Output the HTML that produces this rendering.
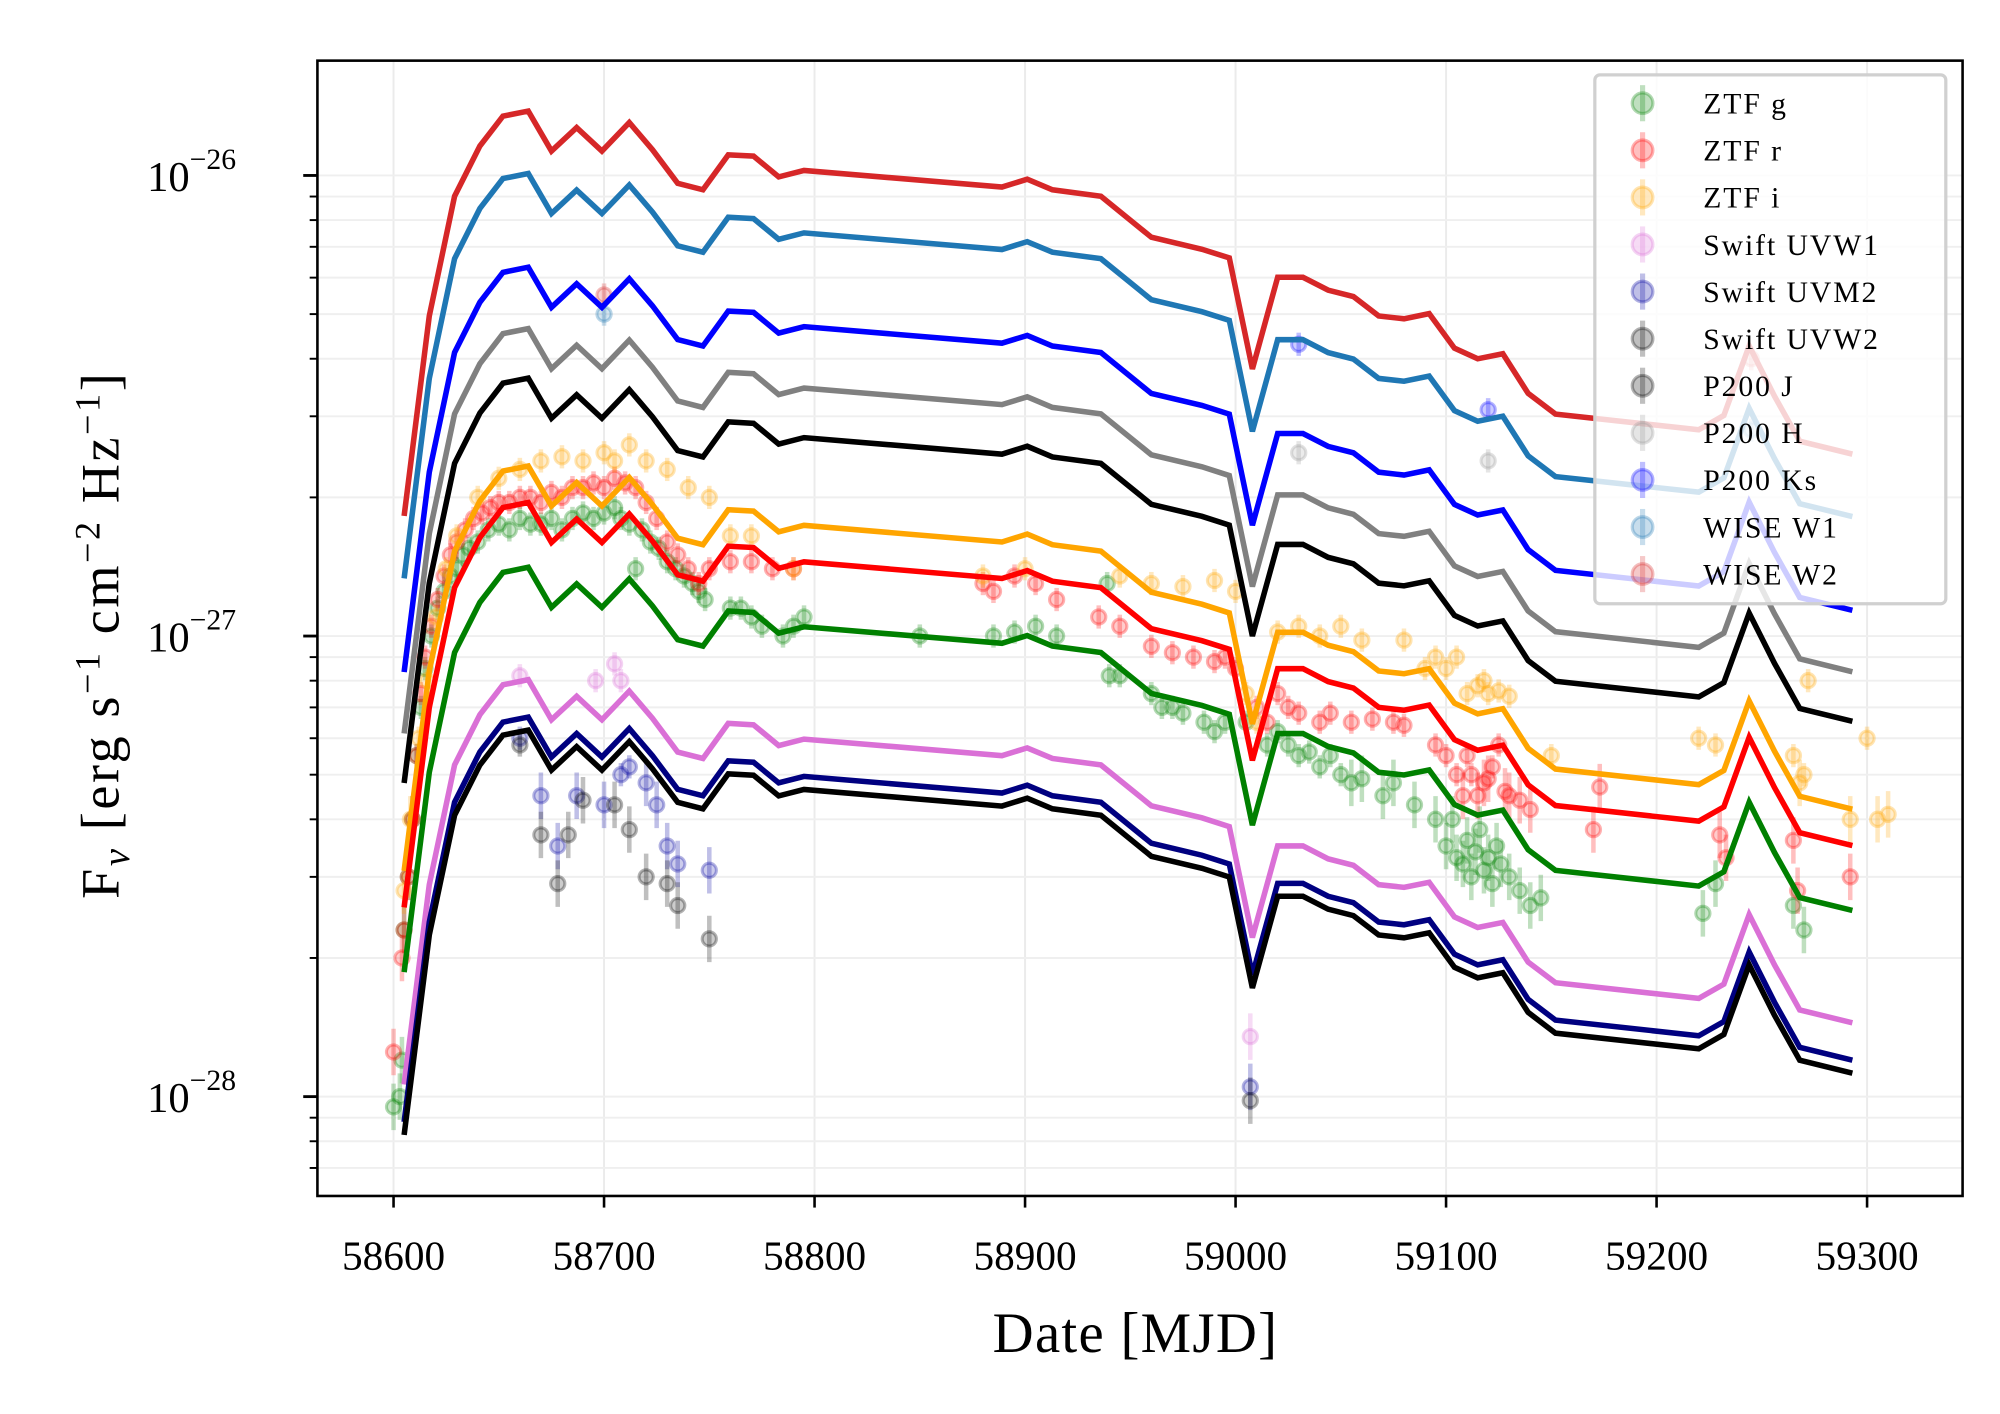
<!DOCTYPE html>
<html><head><meta charset="utf-8"><style>
html,body{margin:0;padding:0;background:#fff;}
svg{display:block;font-family:"Liberation Serif","DejaVu Serif",serif;}
</style></head><body>
<svg id="chart" xmlns="http://www.w3.org/2000/svg" width="2000" height="1414" viewBox="0 0 1550 1096" preserveAspectRatio="none">
<rect x="0" y="0" width="1550" height="1096" fill="#fff"/>
<g id="grid"></g>
<g id="data"></g>
<g id="models"></g>
<rect x="246" y="47" width="1275" height="880" fill="none" stroke="#000" stroke-width="2"/>
<g id="axes"></g>
<text x="880" y="1048" font-size="44" letter-spacing="1" text-anchor="middle">Date [MJD]</text>
<text transform="translate(92,492) rotate(-90)" font-size="42" letter-spacing="2" text-anchor="middle">F<tspan font-style="italic" font-size="30" dy="8">ν</tspan><tspan dy="-8"> [erg s</tspan><tspan font-size="28" dy="-15">−1</tspan><tspan dy="15"> cm</tspan><tspan font-size="28" dy="-15">−2</tspan><tspan dy="15"> Hz</tspan><tspan font-size="28" dy="-15">−1</tspan><tspan dy="15">]</tspan></text>
<g id="legend"></g>
</svg>
<script>
// ---- data ----
const xTicks = [58600,58700,58800,58900,59000,59100,59200,59300];
const yDecades = [-28,-27,-26];
const modelMJD = [58605,58617,58629,58641,58652,58664,58675,58687,58699,58712,58723,58735,58747,58759,58771,58783,58795,58889,58901,58913,58936,58960,58984,58997,59008,59020,59032,59044,59056,59068,59080,59092,59104,59115,59127,59139,59152,59220,59232,59244,59256,59268,59293];
// model log-shape relative to peak (dex)
const modelShape = [-0.879,-0.445,-0.185,-0.076,-0.011,0,-0.087,-0.036,-0.087,-0.025,-0.084,-0.157,-0.171,-0.095,-0.098,-0.143,-0.129,-0.165,-0.148,-0.171,-0.185,-0.274,-0.300,-0.319,-0.560,-0.361,-0.361,-0.389,-0.403,-0.445,-0.451,-0.440,-0.515,-0.538,-0.527,-0.613,-0.658,-0.692,-0.661,-0.510,-0.619,-0.717,-0.745];
const bandNames = ["WISE W2","WISE W1","P200 Ks","P200 H","P200 J","ZTF i","ZTF r","ZTF g","Swift UVW1","Swift UVM2","Swift UVW2"];
const bandColors = ["#d62728","#1f77b4","#0000ff","#808080","#000000","#ffa500","#ff0000","#008000","#da70d6","#000080","#000000"];
const bandPeak = [1.38e-26,1.01e-26,6.32e-27,4.65e-27,3.63e-27,2.34e-27,1.95e-27,1.41e-27,8.04e-28,6.67e-28,6.25e-28];

// observed points (flux in units of 1e-28)
const gMJD = [58600,58603,58604,58605,58607,58609,58611,58613,58615,58618,58621,58624,58627,58630,58633,58636,58640,58645,58650,58655,58660,58665,58670,58675,58680,58685,58690,58695,58700,58705,58708,58712,58715,58718,58722,58726,58730,58734,58738,58742,58745,58748,58760,58765,58770,58775,58785,58790,58795,58850,58885,58895,58905,58915,58939,58940,58945,58960,58965,58970,58975,58985,58990,58995,59005,59015,59020,59025,59030,59035,59040,59045,59050,59055,59060,59070,59075,59085,59095,59100,59103,59105,59108,59110,59112,59114,59116,59118,59120,59122,59124,59126,59130,59135,59140,59145,59222,59228,59265,59270];
const gFlux = [0.95,1.0,1.2,2.3,3,4,5.5,7,8.5,10,11.5,12.5,13.5,14,15,15.5,16,17,17.5,17,18,17.5,17.5,18,17,18,18.5,18,18.5,19,18,17.5,14,17,16,15.5,14.5,14,13.5,13,12.5,12,11.5,11.5,11,10.5,10,10.5,11,10,10,10.2,10.5,10,13,8.2,8.2,7.5,7,7,6.8,6.5,6.2,6.5,6.5,5.8,6.2,5.8,5.5,5.6,5.2,5.5,5,4.8,4.9,4.5,4.8,4.3,4,3.5,4,3.3,3.2,3.6,3.0,3.4,3.8,3.1,3.3,2.9,3.5,3.2,3.0,2.8,2.6,2.7,2.5,2.9,2.6,2.3];
const rMJD = [58600,58604,58605,58607,58609,58611,58613,58615,58618,58621,58624,58627,58630,58634,58638,58642,58646,58650,58655,58660,58665,58670,58675,58680,58685,58690,58695,58700,58705,58710,58715,58720,58725,58730,58735,58740,58745,58750,58760,58770,58780,58790,58880,58885,58895,58905,58915,58935,58945,58960,58970,58980,58990,58995,59000,59010,59015,59020,59025,59030,59040,59045,59055,59065,59075,59080,59095,59100,59105,59108,59110,59112,59115,59118,59120,59122,59125,59128,59130,59135,59140,59170,59173,59230,59233,59265,59267,59292];
const rFlux = [1.25,2,2.3,3.0,4,5.5,7.5,9,10.5,12,13.5,15,16,17,18,18.5,19,19.5,19.5,20,20,19.5,20.5,20,21,21,21.5,21,22,21.5,21,19.5,18,16,15,14,13,14,14.5,14.5,14,14,13,12.5,13.5,13,12,11,10.5,9.5,9.2,9,8.8,9,8.5,7,6.5,7.5,7,6.8,6.5,6.8,6.5,6.6,6.5,6.4,5.8,5.5,5,4.5,5.5,5,4.5,4.8,4.9,5.2,5.8,4.6,4.5,4.4,4.2,3.8,4.7,3.7,3.3,3.6,2.8,3.0];
const iMJD = [58605,58608,58612,58616,58620,58625,58630,58640,58650,58660,58670,58680,58690,58700,58705,58712,58720,58730,58740,58750,58760,58770,58790,58880,58900,58945,58960,58975,58990,59000,59005,59010,59020,59030,59040,59050,59060,59080,59090,59095,59100,59105,59110,59115,59118,59120,59125,59130,59150,59220,59228,59265,59268,59270,59272,59292,59300,59305,59310];
const iFlux = [2.8,4,6,8,11,14,16.5,20,22,23,24,24.5,24,25,24,26,24,23,21,20,16.5,16.5,14,13.5,14,13.5,13,12.8,13.2,12.5,7.5,6.5,10.2,10.5,10,10.5,9.8,9.8,8.5,9,8.5,9,7.5,7.8,8,7.5,7.6,7.4,5.5,6,5.8,5.5,4.8,5,8,4,6,4,4.1];
const uvw1MJD = [58660,58696,58705,58708,59007];
const uvw1Flux = [8.2,8,8.7,8,1.35];
const uvm2MJD = [58660,58670,58678,58687,58700,58708,58712,58720,58725,58730,58735,58750,59007];
const uvm2Flux = [6,4.5,3.5,4.5,4.3,5,5.2,4.8,4.3,3.5,3.2,3.1,1.05];
const uvw2MJD = [58660,58670,58678,58683,58690,58705,58712,58720,58730,58735,58750,59007];
const uvw2Flux = [5.8,3.7,2.9,3.7,4.4,4.3,3.8,3,2.9,2.6,2.2,0.98];
const hMJD = [59030,59120];
const hFlux = [25,24];
const ksMJD = [59030,59120];
const ksFlux = [43,31];
const w1MJD = [58700,59245];
const w1Flux = [50,28];
const w2MJD = [58700,59245];
const w2Flux = [55,40];

const NS='http://www.w3.org/2000/svg';
const X0=305, XS=1.6314, Y26=136, DEC=357;
function xs(m){return X0+(m-58600)*XS;}
function ys(logf){return Y26+(-26-logf)*DEC;}
function yf(f){return ys(Math.log10(f));}
function mk(tag,attrs,parent){const e=document.createElementNS(NS,tag);for(const k in attrs)e.setAttribute(k,attrs[k]);parent.appendChild(e);return e;}

// grid
const grid=document.getElementById('grid');
xTicks.forEach(t=>{
  const l=mk('line',{x1:xs(t),x2:xs(t),y1:47,y2:927,stroke:'#ebebeb','stroke-width':1.5},grid);
  
  
});
const axes=document.getElementById('axes');
for(let d=-29; d<=-26; d++){
  for(let k=1;k<=9;k++){
    const y=ys(d+Math.log10(k));
    if(y<47||y>927) continue;
    const gl=mk('line',{x1:246,x2:1521,y1:y,y2:y,stroke:'#efefef','stroke-width':1.5},grid);
    
    
    const tk=mk('line',{x1:k===1?235:240,x2:246,y1:y,y2:y,stroke:'#000','stroke-width':k===1?2.2:1.5},axes);
    
    
  }
}
yDecades.forEach(d=>{
  const y=ys(d);
  const t=mk('text',{x:114,y:y+12,'font-size':33},axes);
  
  
  t.textContent='10';
  const s=mk('tspan',{dy:-17,'font-size':23},t);
  s.textContent='−'+(-d);
});
xTicks.forEach(m=>{
  const tk=mk('line',{x1:xs(m),x2:xs(m),y1:927,y2:936,stroke:'#000','stroke-width':2},axes);
  
  
  const t=mk('text',{x:xs(m),y:984,'font-size':32,'text-anchor':'middle'},axes);
  
  
  t.textContent=m;
});

// data points
const dataG=document.getElementById('data');
function series(mjds,fluxes,color,name){
  const g=mk('g',{},dataG);
  
  
  mjds.forEach((m,i)=>{
    const f=fluxes[i]*1e-28;
    const x=xs(m), y=yf(f);
    const err=9+ (f<5e-28?9:0);
    const eb=mk('line',{x1:x,x2:x,y1:y-err,y2:y+err,stroke:color,'stroke-opacity':0.25,'stroke-width':3.5},g);
    
    
    const c=mk('circle',{cx:x,cy:y,r:5.5,fill:color,'fill-opacity':0.2,stroke:color,'stroke-opacity':0.3,'stroke-width':2.4},g);
    
    
  });
}
series(gMJD,gFlux,'#008000','ztf-g-points');
series(rMJD,rFlux,'#ff0000','ztf-r-points');
series(iMJD,iFlux,'#ffa500','ztf-i-points');
series(uvw1MJD,uvw1Flux,'#da70d6','swift-uvw1-points');
series(uvm2MJD,uvm2Flux,'#0000a0','swift-uvm2-points');
series(uvw2MJD,uvw2Flux,'#000000','swift-uvw2-points');
series(hMJD,hFlux,'#999999','p200-h-points');
series(ksMJD,ksFlux,'#0000ff','p200-ks-points');
series(w1MJD,w1Flux,'#1f77b4','wise-w1-points');
series(w2MJD,w2Flux,'#d62728','wise-w2-points');

// model curves
const models=document.getElementById('models');
bandPeak.forEach((p,b)=>{
  const lp=Math.log10(p);
  const pts=modelMJD.map((m,i)=>xs(m).toFixed(1)+','+ys(lp+modelShape[i]).toFixed(1)).join(' ');
  const pl=mk('polyline',{points:pts,fill:'none',stroke:bandColors[b],'stroke-width':4.3,'stroke-linejoin':'miter'},models);
  
  
});

// legend
const legendNames=["ZTF g","ZTF r","ZTF i","Swift UVW1","Swift UVM2","Swift UVW2","P200 J","P200 H","P200 Ks","WISE W1","WISE W2"];
const legendColors=["#008000","#ff0000","#ffa500","#da70d6","#0000a0","#000000","#000000","#999999","#0000ff","#1f77b4","#d62728"];
const lg=document.getElementById('legend');
const box=mk('rect',{x:1236,y:58,width:272,height:410,rx:4,fill:'#fff','fill-opacity':0.8,stroke:'#d0d0d0','stroke-width':2.5},lg);


legendNames.forEach((n,i)=>{
  const y=80+i*36.5;
  const g=mk('g',{},lg);
  
  
  mk('line',{x1:1273,x2:1273,y1:y-14,y2:y+14,stroke:legendColors[i],'stroke-opacity':0.25,'stroke-width':4},g);
  mk('circle',{cx:1273,cy:y,r:8,fill:legendColors[i],'fill-opacity':0.25,stroke:legendColors[i],'stroke-opacity':0.3,'stroke-width':2.5},g);
  const t=mk('text',{x:1320,y:y+8,'font-size':23,'letter-spacing':1.5},g);
  t.textContent=n;
});
</script>
</body></html>
